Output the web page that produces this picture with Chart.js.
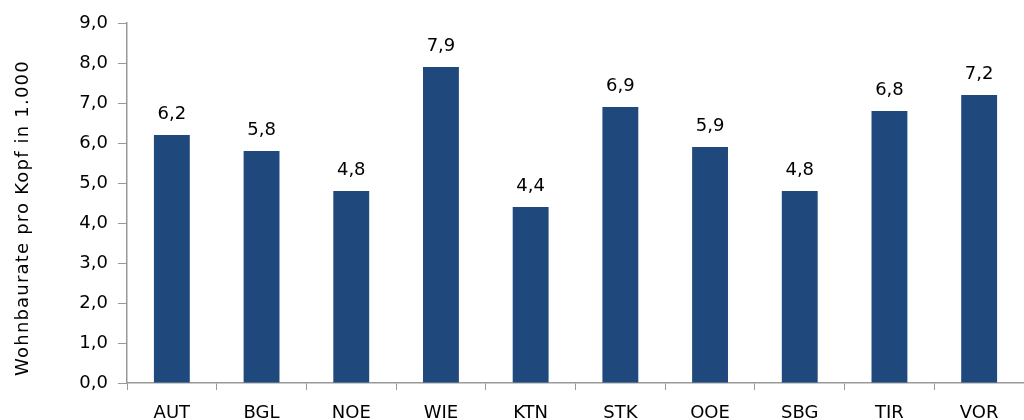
<!DOCTYPE html>
<html>
<head>
<meta charset="utf-8">
<script src="https://cdn.jsdelivr.net/npm/chart.js@4.4.1/dist/chart.umd.min.js"></script>
<style>
  html, body { margin: 0; padding: 0; background: #fff; }
  #wrap { width: 1024px; height: 420px; position: relative; }
</style>
</head>
<body>
<div id="wrap"><canvas id="chart"></canvas></div>
<script>
// Wohnbaurate pro Kopf je Bundesland
const regions = ['AUT', 'BGL', 'NOE', 'WIE', 'KTN', 'STK', 'OOE', 'SBG', 'TIR', 'VOR'];
const rates = [6.2, 5.8, 4.8, 7.9, 4.4, 6.9, 5.9, 4.8, 6.8, 7.2];
const yTitle = 'Wohnbaurate pro Kopf in 1.000';

const FONT = '"DejaVu Sans", sans-serif';
const fmt = v => v.toFixed(1).replace('.', ',');

// Werte über den Balken + gedrehter Achsentitel
const annotations = {
  id: 'annotations',
  afterDatasetsDraw(chart) {
    const ctx = chart.ctx;
    const meta = chart.getDatasetMeta(0);
    ctx.save();
    ctx.font = '18px ' + FONT;
    ctx.fillStyle = '#000';
    ctx.textAlign = 'center';
    ctx.textBaseline = 'alphabetic';
    meta.data.forEach((bar, i) => {
      ctx.fillText(fmt(rates[i]), bar.x, bar.y - 16);
    });

    ctx.font = '18px ' + FONT;
    ctx.letterSpacing = '1.2px';
    ctx.textBaseline = 'middle';
    ctx.translate(23, 218);
    ctx.rotate(-Math.PI / 2);
    ctx.fillText(yTitle, 0, 0);
    ctx.restore();
  }
};

new Chart(document.getElementById('chart'), {
  type: 'bar',
  data: {
    labels: regions,
    datasets: [{
      data: rates,
      backgroundColor: '#1F497D',
      categoryPercentage: 0.4,
      barPercentage: 1.0
    }]
  },
  options: {
    responsive: true,
    maintainAspectRatio: false,
    animation: false,
    layout: { padding: { top: 23, right: 0, left: 0, bottom: 0 } },
    plugins: {
      legend: { display: false },
      tooltip: { enabled: false }
    },
    scales: {
      x: {
        grid: {
          offset: true,
          drawOnChartArea: false,
          drawTicks: true,
          tickLength: 7,
          color: '#999'
        },
        border: { color: '#999', width: 1.5 },
        ticks: { color: '#000', font: { family: FONT, size: 18 }, padding: 13 },
        afterFit(scale) { scale.height = 37; }
      },
      y: {
        min: 0,
        max: 9,
        ticks: {
          stepSize: 1,
          color: '#000',
          font: { family: FONT, size: 18 },
          padding: 10,
          callback: v => fmt(v)
        },
        grid: {
          drawOnChartArea: false,
          drawTicks: true,
          tickLength: 9,
          color: '#999'
        },
        border: { color: '#999', width: 1.5 },
        afterFit(scale) { scale.width = 127; }
      }
    }
  },
  plugins: [annotations]
});
</script>
</body>
</html>
